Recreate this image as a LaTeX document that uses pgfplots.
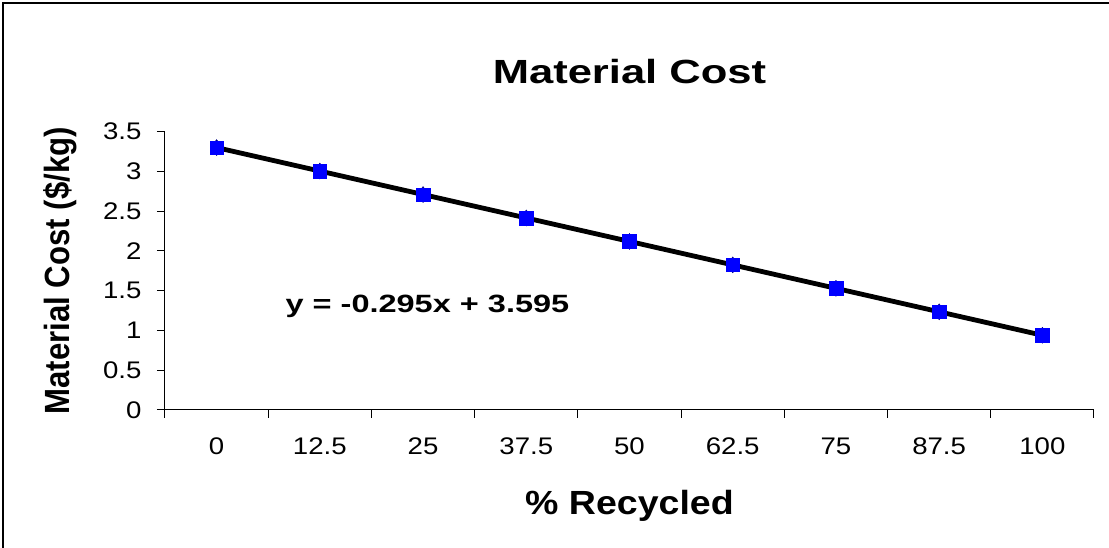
\documentclass[border=0pt]{standalone}
\usepackage{pgfplots}
\pgfplotsset{compat=1.18}
\usepackage{fontspec}
\setmainfont{Liberation Sans}
\newfontfamily\tickf{Liberation Sans}[FakeStretch=1.15]
\newfontfamily\titlef{Liberation Sans}[FakeStretch=1.3]
\newfontfamily\xlabf{Liberation Sans}[FakeStretch=1.12]
\newfontfamily\ylabf{Liberation Sans}[FakeStretch=0.89]
\newfontfamily\eqf{Liberation Sans}[FakeStretch=1.3]
\begin{document}
\begin{tikzpicture}
\path[use as bounding box] (0,0) rectangle (1109pt,548pt);
\draw[line width=1.5pt] (3pt,0) -- (3pt,545pt) -- (1109pt,545pt);
\begin{axis}[
  at={(165pt,138pt)}, anchor=south west,
  scale only axis, width=929pt, height=278.3pt,
  xmin=0.5, xmax=9.5, ymin=0, ymax=3.5,
  axis x line=bottom, axis y line=left,
  axis line style={line width=1pt, -},
  xtick={1,...,9},
  xticklabels={0,12.5,25,37.5,50,62.5,75,87.5,100},
  major x tick style={draw=none},
  minor xtick={0.5,1.5,...,9.5},
  minor tick length=8pt,
  minor x tick style={line width=1pt, black},
  ytick={0,0.5,...,3.5},
  major tick length=8pt,
  tick align=outside,
  y tick style={line width=1pt, black},
  /pgf/number format/assume math mode=true,
  ticklabel style={font=\tickf\fontsize{24}{28}\selectfont},
  xticklabel style={yshift=-16pt},
  yticklabel style={xshift=-12pt},
  title={\titlef\bfseries Material Cost},
  title style={at={(rel axis cs:0.5,1.15)}, anchor=base, font=\fontsize{33.5}{40}\selectfont},
  xlabel={\xlabf\bfseries \% Recycled},
  xlabel style={at={(rel axis cs:0.5,-0.374)}, anchor=base, font=\fontsize{33.5}{40}\selectfont},
  ylabel={\ylabf\bfseries Material Cost (\$/kg)},
  ylabel style={at={(rel axis cs:-0.1023,0.5)}, anchor=base, rotate=0, font=\fontsize{35}{40}\selectfont},
  clip=false,
]
\addplot[only marks, mark=diamond*, mark size=8pt, color={rgb,255:red,0;green,0;blue,128}] coordinates {
(1,3.300) (2,3.005) (3,2.710) (4,2.415) (5,2.120) (6,1.825) (7,1.530) (8,1.235) (9,0.940)};
\addplot[only marks, mark=square*, mark size=6.8pt, color={rgb,255:red,0;green,0;blue,255}] coordinates {
(1,3.300) (2,3.005) (3,2.710) (4,2.415) (5,2.120) (6,1.825) (7,1.530) (8,1.235) (9,0.940)};
\addplot[black, line width=4.8pt, no marks] coordinates {(1,3.300) (9,0.940)};
\node[anchor=base west, font=\eqf\bfseries\fontsize{25}{30}\selectfont] at (rel axis cs:0.126,0.35) {y = -0.295x + 3.595};
\end{axis}
\end{tikzpicture}
\end{document}
